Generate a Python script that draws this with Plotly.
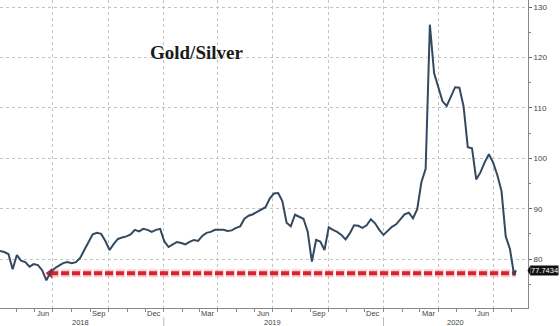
import pandas as pd
import plotly.graph_objects as go

# Weekly gold/silver ratio readings (Wednesdays from 2018-04-04), plus the latest print
week_start = "2018-04-04"
ratio = [
    81.6, 81.4, 81.0, 78.0, 80.8, 79.7, 79.4, 78.5, 79.0, 78.8,
    77.8, 75.8, 77.4, 78.2, 78.7, 79.2, 79.4, 79.2, 79.4, 80.2,
    81.8, 83.3, 84.9, 85.2, 85.0, 83.6, 81.8, 83.0, 84.0, 84.3,
    84.5, 84.9, 85.8, 85.5, 86.0, 85.8, 85.4, 85.8, 86.0, 83.5,
    82.4, 82.9, 83.4, 83.2, 82.9, 83.4, 83.8, 83.6, 84.6, 85.2,
    85.4, 85.8, 85.8, 85.8, 85.6, 85.7, 86.2, 86.5, 88.0, 88.6,
    88.9, 89.4, 89.8, 90.3, 92.0, 93.0, 93.1, 91.5, 87.2, 86.5,
    88.8, 88.4, 88.0, 85.5, 79.5, 83.8, 83.5, 81.8, 86.3, 85.8,
    85.4, 84.8, 83.9, 85.1, 86.7, 86.6, 86.2, 86.7, 87.9, 87.1,
    85.8, 84.8, 85.7, 86.4, 86.9, 88.0, 88.9, 89.2, 88.1, 89.9,
    95.3, 97.9, 126.5, 116.9, 114.3, 111.3, 110.4, 112.4, 114.1, 114.0,
    110.3, 102.2, 102.0, 95.8, 97.2, 99.2, 100.8, 99.2, 96.7, 93.5,
    84.5, 82.0, 76.8,
]
last_date = "2020-08-08"
last_value = 77.7434

dates = list(pd.date_range(week_start, periods=len(ratio), freq="7D")) + [pd.Timestamp(last_date)]
values = ratio + [last_value]

# Support line drawn back from the latest print to the mid-2018 low
support_level = 77.2
support_dates = ["2018-06-26", last_date]

x_range = ["2018-04-04", "2020-08-28"]
y_range = [70.3, 131.4]
y_ticks = [80, 90, 100, 110, 120, 130]

month_labels = ["Jun", "Sep", "Dec", "Mar", "Jun", "Sep", "Dec", "Mar", "Jun"]
month_label_dates = ["2018-06-15", "2018-09-15", "2018-12-15", "2019-03-15", "2019-06-15",
                     "2019-09-15", "2019-12-15", "2020-03-15", "2020-06-15"]
year_labels = ["2018", "2019", "2020"]
year_label_dates = ["2018-08-15", "2019-07-01", "2020-04-29"]
year_breaks = ["2019-01-01", "2020-01-01"]

fig = go.Figure()

# soft halo under the red dashed support line
fig.add_trace(go.Scatter(
    x=support_dates, y=[support_level, support_level], mode="lines",
    line=dict(color="rgba(235,90,100,0.28)", width=8, dash="9px,2px"),
    hoverinfo="skip", showlegend=False))
fig.add_trace(go.Scatter(
    x=support_dates, y=[support_level, support_level], mode="lines",
    line=dict(color="#d8232f", width=4, dash="8px,3px"),
    hoverinfo="skip", showlegend=False))
fig.add_trace(go.Scatter(
    x=[support_dates[0]], y=[support_level], mode="markers",
    marker=dict(symbol="triangle-left", size=9, color="#d8232f"),
    hoverinfo="skip", showlegend=False))

# ratio series
fig.add_trace(go.Scatter(
    x=dates, y=values, mode="lines",
    line=dict(color="#33495f", width=2),
    showlegend=False))

annotations = [
    dict(text="<b>Gold/Silver</b>", x=148 / 528, y=1 - 40 / 308, xref="x domain", yref="y domain",
         showarrow=False, font=dict(family="Liberation Serif", size=19, color="#1a1a1a")),
]

for lab, d in zip(month_labels, month_label_dates):
    annotations.append(dict(text=lab, x=d, y=0, xref="x", yref="paper", yshift=0,
                            xanchor="center", yanchor="top", showarrow=False, borderpad=0,
                            font=dict(family="Liberation Sans", size=7.5, color="#444")))
for lab, d in zip(year_labels, year_label_dates):
    annotations.append(dict(text=lab, x=d, y=0, xref="x", yref="paper", yshift=-8.5,
                            xanchor="center", yanchor="top", showarrow=False, borderpad=0,
                            font=dict(family="Liberation Sans", size=7.5, color="#444")))

# last-value tag on the right axis
annotations.append(dict(text=f"{last_value:.4f}", x=1, y=last_value, xref="paper", yref="y",
                        xanchor="left", yanchor="middle", xshift=2, showarrow=False,
                        bgcolor="#111", borderpad=0,
                        font=dict(family="Liberation Sans", size=7.5, color="white")))

shapes = [dict(type="line", x0=d, x1=d, y0=-0.03, y1=-0.06, xref="x", yref="paper",
               line=dict(color="#bbb", width=1)) for d in year_breaks]
shapes.append(dict(type="path", xref="paper", yref="y",
                   path=f"M 0.999 {last_value} L 1.005 {last_value + 1.1} L 1.005 {last_value - 1.1} Z",
                   fillcolor="#111", line=dict(width=0)))

fig.update_layout(
    width=560, height=326,
    margin=dict(l=0, r=32, t=0, b=18),
    paper_bgcolor="white", plot_bgcolor="white",
    annotations=annotations, shapes=shapes,
    xaxis=dict(
        range=x_range, type="date", tick0="2018-01-01", dtick="M3",
        showticklabels=False, ticks="outside", ticklen=3, tickcolor="#888",
        showgrid=True, gridcolor="#c4c4c4", griddash="dot", gridwidth=1,
        showline=True, linecolor="#888", linewidth=1,
        minor=dict(dtick="M1", ticks="outside", ticklen=3, tickcolor="#888", showgrid=False),
        zeroline=False,
    ),
    yaxis=dict(
        range=y_range, side="right", tickvals=y_ticks,
        ticks="outside", ticklen=3, tickcolor="#666",
        tickfont=dict(family="Liberation Sans", size=8, color="#444"),
        showgrid=True, gridcolor="#c4c4c4", griddash="dot", gridwidth=1,
        showline=True, linecolor="#888", linewidth=1,
        minor=dict(dtick=5, tick0=75, ticks="outside", ticklen=2, tickcolor="#888", showgrid=False),
        zeroline=False,
    ),
)

fig.write_html("out.html")
